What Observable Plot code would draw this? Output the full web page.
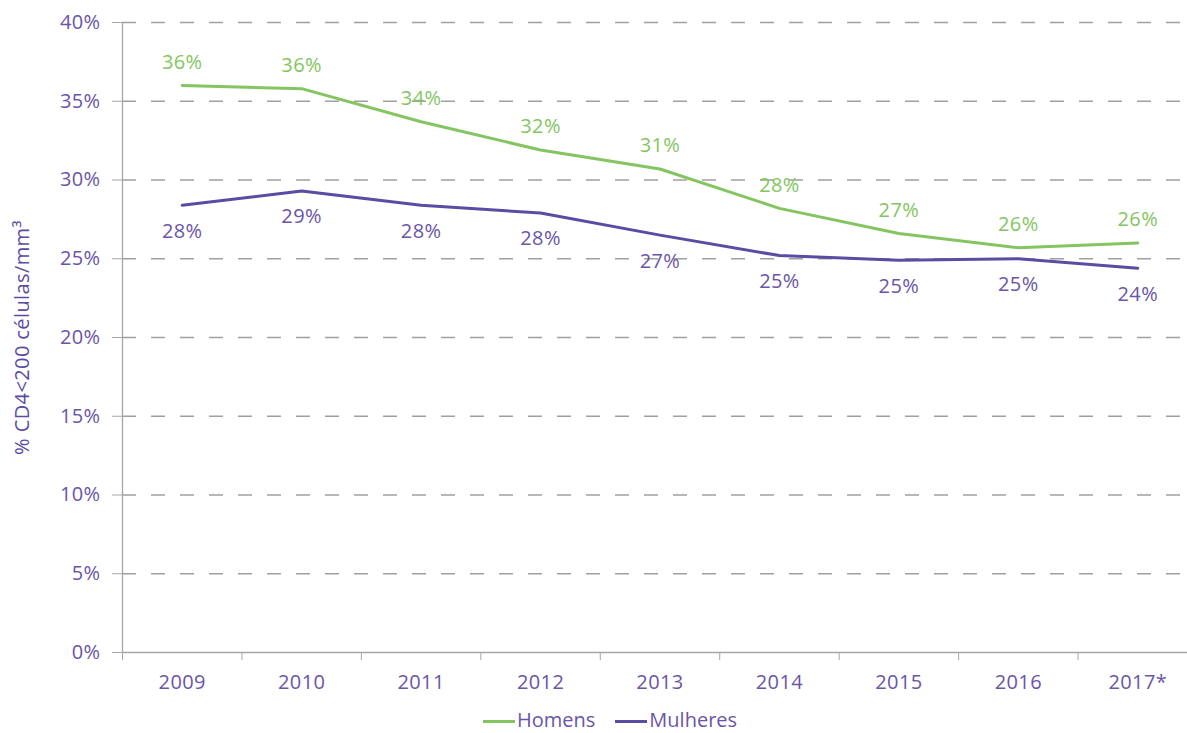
<!DOCTYPE html>
<html>
<head>
<meta charset="utf-8">
<script src="https://cdn.jsdelivr.net/npm/d3@7"></script>
<script src="https://cdn.jsdelivr.net/npm/@observablehq/plot@0.6"></script>
<style>
  html, body { margin: 0; padding: 0; background: #fff; overflow: hidden; }
  #chart { position: relative; width: 1187px; height: 733px; overflow: hidden; }
  #chart svg { max-width: none !important; }
  #legend { position: absolute; top: 710px; left: 483px; font-family: "Open Sans", sans-serif; font-size: 20px; line-height: 20px; color: #6a55a8; display: flex; gap: 20px; align-items: center; }
  .sw { display: inline-block; width: 32px; height: 3px; vertical-align: middle; margin-right: 2px; }
</style>
</head>
<body>
<div id="chart"></div>
<script>
const years = ["2009", "2010", "2011", "2012", "2013", "2014", "2015", "2016", "2017*"];
const homens = [36.0, 35.8, 33.7, 31.9, 30.7, 28.2, 26.6, 25.7, 26.0];
const mulheres = [28.4, 29.3, 28.4, 27.9, 26.5, 25.2, 24.9, 25.0, 24.4];
const yTicks = [0, 5, 10, 15, 20, 25, 30, 35, 40];
const seriesNames = ["Homens", "Mulheres"];
const colors = { Homens: "#84c561", Mulheres: "#5a4ca3" };
const textColors = { Homens: "#84c561", Mulheres: "#6a55a8" };

const data = [];
years.forEach((yr, i) => {
  data.push({ series: "Homens", i: i + 0.5, year: yr, v: homens[i] });
  data.push({ series: "Mulheres", i: i + 0.5, year: yr, v: mulheres[i] });
});

const axisColor = "#a6a6a6";
const labelColor = "#6a55a8";

const plot = Plot.plot({
  width: 1197,
  height: 705,
  marginLeft: 122,
  marginRight: 0,
  marginTop: 22,
  marginBottom: 53,
  style: { fontFamily: "'Open Sans', sans-serif", fontSize: "20px", color: labelColor, background: "transparent", maxWidth: "none", letterSpacing: "0.4px" },
  x: { domain: [0, years.length], axis: null },
  y: { domain: [0, 40], axis: null },
  marks: [
    Plot.ruleY(yTicks.filter(t => t > 0), { y: d => d, stroke: "#a0a0a0", strokeWidth: 1.3, strokeDasharray: "14,15" }),
    Plot.ruleY([0], { stroke: axisColor, strokeWidth: 1.3 }),
    Plot.ruleX([0], { stroke: axisColor, strokeWidth: 1.3 }),
    Plot.axisY({ ticks: yTicks, tickFormat: d => d + "%", tickSize: 10, tickPadding: 12, stroke: axisColor, fill: labelColor, label: null, fontSize: 20 }),
    Plot.axisX({ ticks: d3.range(years.length + 1), tickFormat: () => "", tickSize: 8, stroke: axisColor, label: null }),
    Plot.axisX({ ticks: years.map((_, i) => i + 0.5), tickFormat: d => years[Math.floor(d)], tickSize: 0, tickPadding: 22, fill: labelColor, label: null, fontSize: 20 }),
    Plot.text(["% CD4<200 células/mm³"], { frameAnchor: "left", dx: -100, rotate: -90, textAnchor: "middle", text: d => d, fill: "#5a4ca3", fontSize: 20 }),
    Plot.line(data, { x: "i", y: "v", z: "series", stroke: d => colors[d.series], strokeWidth: 3 }),
    Plot.text(data.filter(d => d.series === "Homens"), { x: "i", y: "v", text: d => Math.round(d.v) + "%", dy: -23, fill: textColors.Homens, fontSize: 20 }),
    Plot.text(data.filter(d => d.series === "Mulheres"), { x: "i", y: "v", text: d => Math.round(d.v) + "%", dy: 26, fill: textColors.Mulheres, fontSize: 20 })
  ]
});

const chart = document.getElementById("chart");
chart.appendChild(plot);

const legend = document.createElement("div");
legend.id = "legend";
seriesNames.forEach(name => {
  const item = document.createElement("span");
  const sw = document.createElement("span");
  sw.className = "sw";
  sw.style.background = colors[name];
  item.appendChild(sw);
  item.appendChild(document.createTextNode(name));
  legend.appendChild(item);
});
chart.appendChild(legend);
</script>
</body>
</html>
